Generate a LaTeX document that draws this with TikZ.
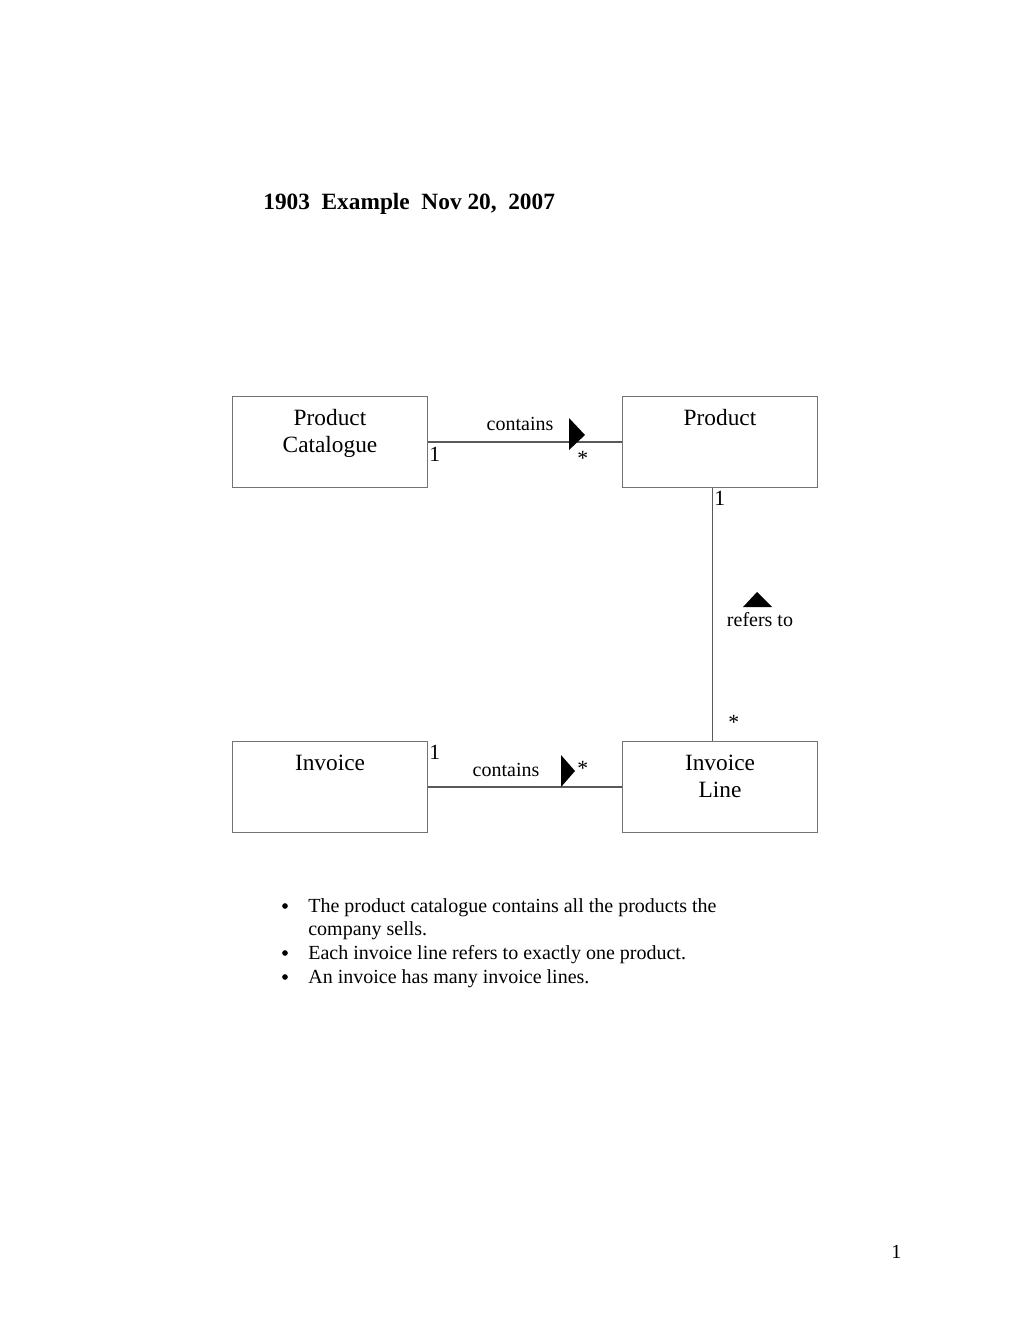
\documentclass[tikz,border=0pt]{standalone}
\usepackage{fontspec}
\setmainfont{Liberation Serif}
\usetikzlibrary{positioning}

\begin{document}
\begin{tikzpicture}[
    x=0.6pt, y=-0.6pt,
    classbox/.style={rectangle, draw=black!55, line width=0.6pt, minimum width=117pt, minimum height=54.6pt, anchor=north west, inner sep=0pt},
    classname/.style={anchor=base, inner sep=0pt, font=\fontsize{14}{16}\selectfont},
    assoc/.style={draw=black!65, line width=0.8pt},
    assoclabel/.style={anchor=base, inner sep=0pt, font=\fontsize{12}{14}\selectfont},
    mult/.style={anchor=base west, inner sep=0pt, font=\fontsize{13}{16}\selectfont},
    dirmark/.style={fill=black},
    bulletdot/.style={circle, fill=black, inner sep=0pt, minimum size=3.4pt},
    bullettext/.style={anchor=base west, inner sep=0pt, font=\fontsize{12}{14}\selectfont}
]
    \useasboundingbox (0,0) rectangle (1020,1320);

    % title
    \node[anchor=base west, inner sep=0pt, font=\bfseries\fontsize{14}{16}\selectfont] (title) at (263,209) {1903\ \ Example\ \ Nov 20,\ \ 2007};

    % classes
    \node[classbox] (catalogue) at (232,396) {};
    \node[classbox] (product) at (622,396) {};
    \node[classbox] (invoice) at (232,741) {};
    \node[classbox] (invline) at (622,741) {};

    \node[classname] (catname1) at (330,425) {Product};
    \node[classname] (catname2) at (330,452) {Catalogue};
    \node[classname] (prodname) at (720,425) {Product};
    \node[classname] (invname) at (330,770) {Invoice};
    \node[classname] (linename1) at (720,770) {Invoice};
    \node[classname] (linename2) at (720,797) {Line};

    % associations
    \draw[assoc] (catalogue.east) -- (product.west);
    \draw[assoc] ([xshift=-4.5pt]product.south) -- ([xshift=-4.5pt]invline.north);
    \draw[assoc] (invoice.east) -- (invline.west);

    % catalogue contains product
    \node[assoclabel] (contains1) at (520,430) {contains};
    \fill[dirmark] (569,418) -- (569,450) -- (585,435) -- cycle;
    \node[mult] (cat1) at (429,461) {1};
    \node[mult] (prodmany) at (577,465) {*};

    % invoice line refers to product
    \node[mult] (prod1) at (714,505) {1};
    \fill[dirmark] (743,607) -- (772,607) -- (757,592) -- cycle;
    \node[assoclabel] (refers) at (760,626) {refers to};
    \node[mult] (linemany) at (728,729) {*};

    % invoice contains invoice lines
    \node[mult] (inv1) at (429,759) {1};
    \node[assoclabel] (contains2) at (506,776) {contains};
    \fill[dirmark] (561,755) -- (561,787) -- (575,771) -- cycle;
    \node[mult] (linemany2) at (577,775) {*};

    % notes
    \node[bulletdot] (dot1) at (285,906) {};
    \node[bullettext] (note1a) at (308,912) {The product catalogue contains all the products the};
    \node[bullettext] (note1b) at (308,935) {company sells.};
    \node[bulletdot] (dot2) at (285,953) {};
    \node[bullettext] (note2) at (308,959) {Each invoice line refers to exactly one product.};
    \node[bulletdot] (dot3) at (285,977) {};
    \node[bullettext] (note3) at (308,983) {An invoice has many invoice lines.};

    % page number
    \node[bullettext] (pagenum) at (891,1258) {1};
\end{tikzpicture}
\end{document}
